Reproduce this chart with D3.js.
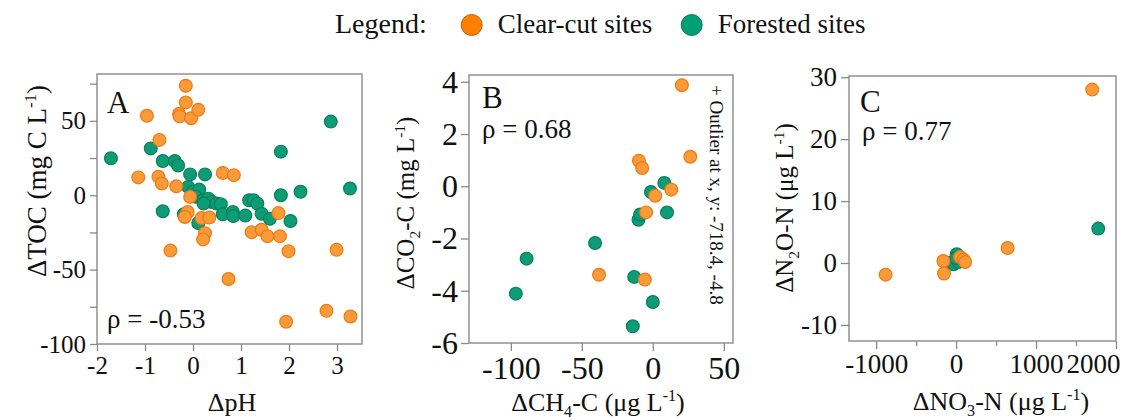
<!DOCTYPE html>
<html>
<head>
<meta charset="utf-8">
<script src="https://cdn.jsdelivr.net/npm/d3@7"></script>
<style>
  body { margin: 0; background: #fff; }
  svg text { font-family: "Liberation Serif", Tinos, "Times New Roman", Times, "DejaVu Serif", serif !important; fill: #111; }
</style>
</head>
<body>
<svg id="chart" width="1129" height="420"></svg>
<script>
// ---- DATA ----------------------------------------------

// panel A: delta pH vs delta TOC
var clearA = [[-0.15, 73.6], [-0.15, 62.4], [-0.29, 54.7], [-0.28, 53], [-0.04, 51.8], [0.11, 57.4],
  [-0.96, 53.4], [-0.70, 37.2], [-1.14, 12], [-0.72, 12.4], [-0.65, 7.9], [-0.35, 6],
  [0.62, 15], [0.85, 13.5], [-0.06, -1.1], [-0.11, -11.3], [-0.17, -14.6], [0.18, -15.3],
  [0.34, -15], [0.25, -25.5], [0.21, -29.7], [-0.47, -37.2], [0.74, -56.3], [1.22, -24.8],
  [1.43, -23.2], [1.55, -27.5], [1.81, -27.5], [1.78, -12], [1.99, -37.6], [1.94, -85],
  [2.99, -36.7], [2.78, -77.7], [3.28, -81.5]];
var forestA = [[-1.71, 24.8], [-0.88, 31.5], [-0.63, 23], [-0.38, 23], [-0.31, 20], [-0.06, 14],
  [0.25, 14], [-0.1, 5.6], [0.0, 2.3], [0.13, 3.8], [0.06, -1], [0.21, -3.4], [0.32, -2.3],
  [0.39, -4.5], [0.49, -5.6], [0.58, -6], [0.22, -5.6], [0.62, -12.8], [0.83, -11.3],
  [0.84, -14], [1.09, -13.7], [1.17, -3.4], [1.26, -3.4], [1.34, -5.6], [1.43, -12.4],
  [1.6, -15.8], [-0.63, -10.8], [-0.19, -12.8], [0.11, -18.7], [1.83, 29.3], [1.83, 0],
  [2.24, 2.3], [2.03, -17.3], [2.87, 49.5], [3.27, 4.5]];

// panel B: delta CH4-C vs delta CO2-C
var clearB = [[20.5, 3.87], [26.4, 1.13], [-9.8, 0.98], [-7.5, 0.70], [13, -0.13], [1.7, -0.36],
  [-4.7, -1.0], [-37.9, -3.39], [-5.6, -3.57]];
var forestB = [[-96.5, -4.11], [-88.9, -2.77], [-40.7, -2.17], [-13.1, -3.47], [-14.1, -5.36],
  [0, -4.43], [-10.1, -1.28], [-8.9, -1.08], [-1.3, -0.22], [8.1, 0.13], [10, -1.0]];

// panel C: delta NO3-N vs delta N2O-N
var clearC = [[1702, 28.0], [644, 2.42], [-882, -1.88], [-159, 0.32], [-151, -1.7],
  [50, 0.97], [92, 0.55], [113, 0.16]];
var forestC = [[1778, 5.55], [8, 1.4], [-84, 0], [-33, -0.2], [29, 0.16], [0, 0.8]];

// ticks
var ticksAx = [-2, -1, 0, 1, 2, 3];
var ticksAy = [-100, -75, -50, -25, 0, 25, 50, 75];
var labelsAy = [-100, -50, 0, 50];
var ticksBx = [-100, -50, 0, 50];
var ticksBy = [-6, -4, -2, 0, 2, 4];
var ticksCx = [-1000, -500, 0, 500, 1000, 1500, 2000];
var labelsCx = [-1000, 0, 1000, 2000];
var ticksCy = [-10, 0, 10, 20, 30];

var rhoA = "ρ = -0.53", rhoB = "ρ = 0.68", rhoC = "ρ = 0.77";
var outlierNote = "+ Outlier at x, y: -718.4, -4.8";

// ---- COLORS -----------------------
var orange = { fill: "#fa9a38", stroke: "#ee7a12" };
var green = { fill: "#0d9c76", stroke: "#06805f" };

var svg = d3.select("#chart");

// ------------- text with sub / superscripts -------------
function richText(sel, parts, size) {
    var shift = 0;
    parts.forEach(p => {
        var t = sel.append("tspan").text(p[0]);
        var want = 0;
        if (p[1] == "sup") want = -size * 0.38;
        if (p[1] == "sub") want = size * 0.22;
        if (p[1]) t.attr("font-size", size * 0.62);
        if (want != shift) { t.attr("dy", want - shift); shift = want; }
    });
}

// ------------- one scatter panel -------------
function panel(cfg) {
    var x = d3.scaleLinear().domain(cfg.xDomain).range([cfg.left, cfg.right]);
    var y = d3.scaleLinear().domain(cfg.yDomain).range([cfg.bottom, cfg.top]);

    var xAxis = d3.axisBottom(x).tickValues(cfg.xTicks).tickSizeInner(cfg.tick).tickSizeOuter(0)
        .tickPadding(cfg.xPad)
        .tickFormat(d => cfg.xLabels.indexOf(d) >= 0 ? d : "");
    var yAxis = d3.axisLeft(y).tickValues(cfg.yTicks).tickSizeInner(cfg.tick).tickSizeOuter(0)
        .tickPadding(cfg.yPad)
        .tickFormat(d => cfg.yLabels.indexOf(d) >= 0 ? d : "");

    var gx = svg.append("g").attr("transform", "translate(0," + cfg.bottom + ")").call(xAxis);
    var gy = svg.append("g").attr("transform", "translate(" + cfg.left + ",0)").call(yAxis);
    [gx, gy].forEach(g => {
        g.attr("font-family", null);
        g.select(".domain").remove();
        g.selectAll("line").attr("stroke", "#8a8a8a").attr("stroke-width", 1.3);
        g.selectAll("text").attr("fill", "#1a1a1a");
    });
    gx.selectAll("text").style("font-size", cfg.xFont + "px");
    gy.selectAll("text").style("font-size", cfg.yFont + "px");
    if (cfg.minor) {
        gx.selectAll(".tick").filter(d => cfg.xLabels.indexOf(d) < 0)
            .select("line").attr("y2", cfg.minor);
    }
    if (cfg.lastEnd) {
        gx.selectAll(".tick").filter(d => d == cfg.xTicks[cfg.xTicks.length - 1])
            .select("text").attr("text-anchor", "end").attr("x", 4);
    }

    // frame
    svg.append("rect")
        .attr("x", cfg.left).attr("y", cfg.top)
        .attr("width", cfg.right - cfg.left).attr("height", cfg.bottom - cfg.top)
        .attr("fill", "none").attr("stroke", "#8a8a8a").attr("stroke-width", 1.4);

    // points, forested first then clear-cut on top
    [[cfg.forest, green], [cfg.clear, orange]].forEach(s => {
        svg.append("g").selectAll("circle")
            .data(s[0])
            .enter().append("circle")
            .attr("cx", d => x(d[0]))
            .attr("cy", d => y(d[1]))
            .attr("r", 6.4)
            .attr("fill", s[1].fill)
            .attr("stroke", s[1].stroke)
            .attr("stroke-width", 1.2);
    });

    // panel letter and rho
    svg.append("text").attr("x", cfg.letterX).attr("y", cfg.letterY)
        .style("font-size", "31px").text(cfg.letter);
    svg.append("text").attr("x", cfg.rhoX).attr("y", cfg.rhoY)
        .style("font-size", "27px").text(cfg.rho);

    // axis titles
    var xt = svg.append("text").attr("x", cfg.xTitleX).attr("y", cfg.xTitleY)
        .attr("text-anchor", "middle").style("font-size", "26px");
    richText(xt, cfg.xTitle, 26);
    var yt = svg.append("text")
        .attr("transform", "translate(" + cfg.yTitleX + "," + cfg.yTitleY + ") rotate(-90)")
        .attr("text-anchor", "middle").style("font-size", cfg.yTitleFont + "px");
    richText(yt, cfg.yTitle, cfg.yTitleFont);
}

panel({
    left: 97, right: 362, top: 74, bottom: 344,
    xDomain: [-2, 3.52], yDomain: [-100, 81.5],
    xTicks: ticksAx, xLabels: ticksAx, yTicks: ticksAy, yLabels: labelsAy,
    tick: 7, xPad: 5, yPad: 4, xFont: 25, yFont: 25,
    clear: clearA, forest: forestA,
    letter: "A", letterX: 107, letterY: 113, rho: rhoA, rhoX: 107, rhoY: 328,
    xTitle: [["ΔpH", ""]], xTitleX: 232, xTitleY: 411,
    yTitle: [["ΔTOC (mg C L", ""], ["-1", "sup"], [")", ""]], yTitleX: 46, yTitleY: 181, yTitleFont: 27
});

panel({
    left: 469, right: 733, top: 75, bottom: 343,
    xDomain: [-129.5, 56.5], yDomain: [-6, 4.26],
    xTicks: ticksBx, xLabels: ticksBx, yTicks: ticksBy, yLabels: ticksBy,
    tick: 8, xPad: 5, yPad: 3, xFont: 32, yFont: 32,
    clear: clearB, forest: forestB,
    letter: "B", letterX: 482, letterY: 108, rho: rhoB, rhoX: 482, rhoY: 138,
    xTitle: [["ΔCH", ""], ["4", "sub"], ["-C (μg L", ""], ["-1", "sup"], [")", ""]], xTitleX: 598, xTitleY: 411,
    yTitle: [["ΔCO", ""], ["2", "sub"], ["-C (mg L", ""], ["-1", "sup"], [")", ""]], yTitleX: 414, yTitleY: 203, yTitleFont: 25
});

panel({
    left: 849, right: 1116, top: 76, bottom: 341,
    xDomain: [-1340, 2000], yDomain: [-12.6, 30.2],
    xTicks: ticksCx, xLabels: labelsCx, yTicks: ticksCy, yLabels: ticksCy,
    tick: 8, minor: 5, lastEnd: true, xPad: 5, yPad: 4, xFont: 27, yFont: 27,
    clear: clearC, forest: forestC,
    letter: "C", letterX: 860, letterY: 112, rho: rhoC, rhoX: 862, rhoY: 140,
    xTitle: [["ΔNO", ""], ["3", "sub"], ["-N (μg L", ""], ["-1", "sup"], [")", ""]], xTitleX: 1001, xTitleY: 410,
    yTitle: [["ΔN", ""], ["2", "sub"], ["O-N (μg L", ""], ["-1", "sup"], [")", ""]], yTitleX: 793, yTitleY: 208, yTitleFont: 25
});

// outlier note in panel B
svg.append("text")
    .attr("transform", "translate(710,85) rotate(90)")
    .style("font-size", "19px")
    .text(outlierNote);

// ---- LEGEND -----------------------
var legend = svg.append("g");
legend.append("text").attr("x", 335).attr("y", 33).style("font-size", "28px").text("Legend:");
[[471.7, "Clear-cut sites", "#ff7f00", "#c0600a"], [691.7, "Forested sites", "#00a077", "#067a5c"]]
    .forEach(l => {
        legend.append("circle").attr("cx", l[0]).attr("cy", 25).attr("r", 10.5)
            .attr("fill", l[2]).attr("stroke", l[3]).attr("stroke-width", 1);
        legend.append("text").attr("x", l[0] + 26).attr("y", 33).style("font-size", "27px").text(l[1]);
    });
</script>
</body>
</html>
